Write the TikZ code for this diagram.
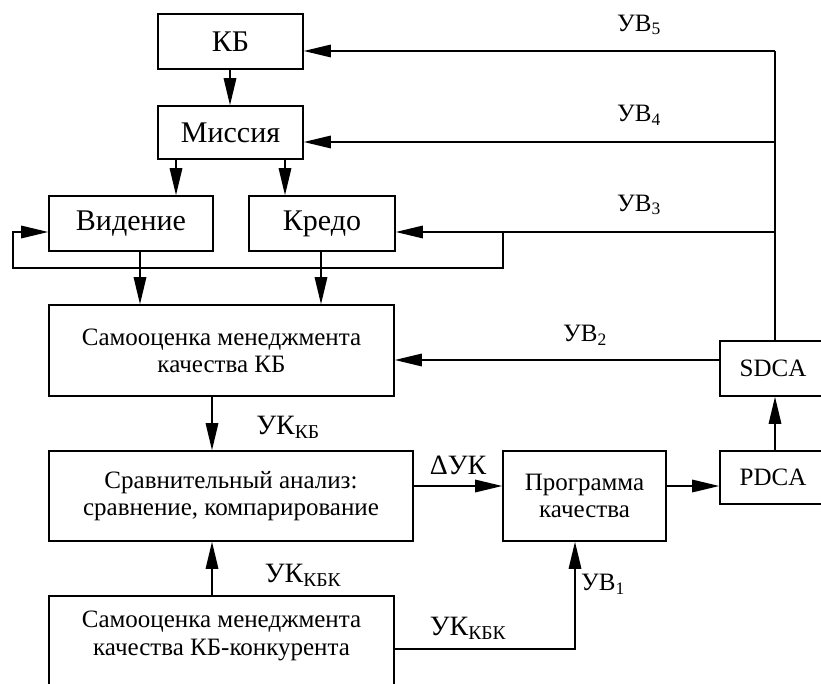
\documentclass[tikz,border=0pt]{standalone}
\usepackage{fontspec}
\setmainfont{Liberation Serif}
\usetikzlibrary{arrows.meta}
\newcommand\fsz[1]{\fontsize{#1}{#1}\selectfont}
\begin{document}
\begin{tikzpicture}[x=1pt,y=-1pt,
  box/.style={draw,line width=1.6pt,inner sep=0pt,align=center},
  conn/.style={line width=1.6pt},
  arr/.style={line width=1.6pt,-{Triangle[length=27pt,width=12.5pt]}},
  lbl/.style={inner sep=0pt,font=\fsz{25}},
  lblk/.style={inner sep=0pt,font=\fsz{28}}]
\path[use as bounding box,clip] (0,0) rectangle (821,684);
% boxes
\node[box,minimum width=145pt,minimum height=55pt,font=\fsz{30}] (kb) at (230.5,41.5) {КБ};
\node[box,minimum width=145pt,minimum height=53pt,font=\fsz{30}] (mis) at (230.5,132.5) {Миссия};
\node[box,minimum width=164pt,minimum height=55pt,font=\fsz{30}] (vid) at (131,223.5) {Видение};
\node[box,minimum width=146pt,minimum height=55pt,font=\fsz{30}] (kre) at (322,223.5) {Кредо};
\node[box,minimum width=345pt,minimum height=91pt,font=\fsz{25}] (sam) at (221.5,350.5) {Самооценка менеджмента\\[2pt]качества КБ};
\node[box,minimum width=364pt,minimum height=90pt,font=\fsz{25}] (srav) at (231,496) {Сравнительный анализ:\\[2pt]сравнение, компарирование};
\node[box,minimum width=345pt,minimum height=110pt] (kon) at (221.5,651) {};
\node[inner sep=0pt,align=center,font=\fsz{25}] (kontxt) at (221.5,636) {Самооценка менеджмента\\[3pt]качества КБ-конкурента};
\node[box,minimum width=163pt,minimum height=90pt,font=\fsz{25}] (prog) at (584.5,496) {Программа\\[2pt]качества};
\node[box,minimum width=106pt,minimum height=53pt,font=\fsz{25}] (pdca) at (773,477.5) {PDCA};
\node[box,minimum width=106pt,minimum height=55pt,font=\fsz{25}] (sdca) at (773,368.5) {SDCA};
% coordinates
\coordinate (top) at (775,51);
\coordinate (r4) at (775,142);
\coordinate (r3) at (775,232);
\coordinate (j3) at (503,232);
\coordinate (l1) at (503,268);
\coordinate (l2) at (13,268);
\coordinate (l3) at (13,232);
\coordinate (b1) at (575,649);
% connectors
\draw[arr] (kb.south -| 230,0) -- (mis.north -| 230,0);
\draw[arr] (mis.south -| 176,0) -- (vid.north -| 176,0);
\draw[arr] (mis.south -| 285,0) -- (kre.north -| 285,0);
\draw[arr] (vid.south -| 140,0) -- (sam.north -| 140,0);
\draw[arr] (kre.south -| 321,0) -- (sam.north -| 321,0);
\draw[conn] (sdca.north -| top) -- (top);
\draw[arr] (top) -- (kb.east |- top);
\draw[arr] (r4) -- (mis.east |- r4);
\draw[arr] (r3) -- (kre.east |- r3);
\draw[arr] (j3) -- (l1) -- (l2) -- (l3) -- (vid.west |- l3);
\draw[arr] (sam.south -| 212,0) -- (srav.north -| 212,0);
\draw[arr] (kon.north -| 212,0) -- (srav.south -| 212,0);
\draw[arr] (srav.east |- 0,486) -- (prog.west |- 0,486);
\draw[arr] (prog.east |- 0,486) -- (pdca.west |- 0,486);
\draw[arr] (pdca.north -| 775,0) -- (sdca.south -| 775,0);
\draw[arr] (sdca.west |- 0,360) -- (sam.east |- 0,360);
\draw[arr] (kon.east |- b1) -- (b1) -- (prog.south -| b1);
% labels
\node[lbl] (uv5) at (639,25) {УВ\textsubscript{5}};
\node[lbl] (uv4) at (639,115) {УВ\textsubscript{4}};
\node[lbl] (uv3) at (639,205) {УВ\textsubscript{3}};
\node[lbl] (uv2) at (585,335) {УВ\textsubscript{2}};
\node[lbl] (uv1) at (603,584) {УВ\textsubscript{1}};
\node[lblk] (duk) at (458,465) {ΔУК};
\node[lblk] (ukkb) at (288,427) {УК\textsubscript{КБ}};
\node[lblk] (ukkbk1) at (303,575) {УК\textsubscript{КБК}};
\node[lblk] (ukkbk2) at (468,628) {УК\textsubscript{КБК}};
\end{tikzpicture}
\end{document}
